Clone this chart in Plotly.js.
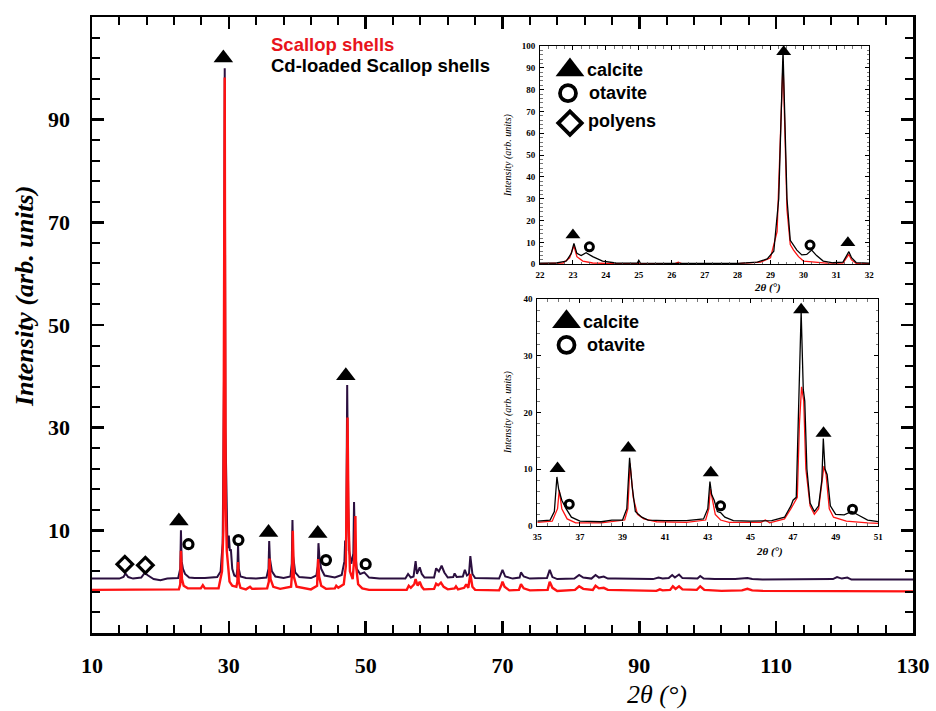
<!DOCTYPE html>
<html>
<head>
<meta charset="utf-8">
<script src="https://cdn.plot.ly/plotly-3.0.1.min.js"></script>
<style>html,body{margin:0;padding:0;background:#fff;}#chart{width:936px;height:711px;}</style>
</head>
<body>
<div id="chart"></div>
<script>
// ---------- Main pattern: Cd-loaded Scallop shells (dark purple) ----------
const cdX = [10,14.0,14.6,14.9,15.3,16.0,17.2,17.7,18.2,19.0,20.0,21.0,22.6,22.9,23.0,23.1,23.3,23.6,24.2,25.0,26.5,28.3,28.8,29.1,29.3,29.4,29.5,29.7,29.8,30.0,30.15,30.3,30.5,30.8,31.1,31.25,31.35,31.45,31.7,32.5,34.0,35.5,35.8,35.9,36.0,36.3,36.8,38.0,39.0,39.2,39.3,39.4,39.7,40.3,42.0,42.8,43.0,43.1,43.25,43.5,44.0,45.5,46.5,46.9,47.0,47.15,47.3,47.45,47.6,47.9,48.2,48.3,48.45,48.7,49.2,49.8,50.5,52,55.8,56.2,56.6,57.0,57.3,57.5,57.9,58.2,58.6,60.0,60.3,60.7,61.1,61.5,62.0,62.8,63.0,63.3,64.2,64.5,64.8,65.1,65.3,65.6,66.0,69.5,69.8,70.0,70.4,71.5,72.5,72.7,73.1,74,76.5,76.9,77.3,78,80.5,81.2,81.8,83.0,83.6,84.1,84.8,85.4,86.5,92.0,92.8,93.4,94.3,94.8,95.2,95.8,96.3,98.5,98.9,99.4,101,104,105.8,106.5,108,118.3,118.9,119.6,120.4,121,130];
const cdY = [0.6,0.6,0.9,1.6,0.9,0.6,0.8,1.7,1.2,0.5,0.3,0.6,0.7,2.5,10.0,4.0,2.5,1.5,0.8,0.7,0.7,0.9,2.0,7.5,40,100,30,9,6.5,9.0,6.0,6.3,2.5,1.2,1.0,2.5,7.3,2.5,1.0,0.7,0.6,0.8,2.5,7.9,4.5,2.0,1.0,0.7,1.0,3.5,12.0,5.0,1.8,0.9,0.7,1.2,3.0,7.5,4.5,2.5,1.2,0.8,1.3,4.0,8.0,6.0,38.3,15,6,3.5,5.5,15.5,6.0,2.5,1.5,1.8,0.8,0.6,0.6,1.5,0.8,1.0,4.0,1.5,2.8,1.5,0.8,0.8,2.6,2.0,3.1,1.8,0.8,0.9,1.6,0.9,1.0,2.3,1.2,1.5,5.0,1.5,0.7,0.6,1.5,2.3,1.0,0.6,0.8,1.8,1.0,0.6,0.7,2.3,0.9,0.5,0.6,1.3,0.8,0.6,1.3,0.8,1.0,0.6,0.6,0.5,0.8,0.6,0.7,1.3,0.8,1.4,0.7,0.6,1.1,0.6,0.5,0.5,0.7,0.5,0.4,0.5,0.9,0.6,0.8,0.4,0.4];

// ---------- Main pattern: Scallop shells (red) ----------
const scX = [10,22.7,22.9,23.0,23.15,23.4,24.0,25.9,26.2,26.5,28.5,29.0,29.2,29.3,29.4,29.45,29.55,29.7,29.9,30.1,30.5,31.1,31.25,31.35,31.45,31.7,32.5,33.1,33.4,35.6,35.85,35.95,36.1,36.5,37.5,39.1,39.25,39.35,39.5,39.9,42.0,42.9,43.05,43.2,43.5,44.2,45.5,45.7,46.0,46.8,47.1,47.35,47.5,47.7,48.1,48.35,48.5,48.6,48.9,49.5,50.5,56.0,56.3,56.6,57.1,57.3,57.6,57.9,58.2,58.5,60.0,60.3,60.6,61.0,61.4,62,63.0,63.2,63.5,64.4,64.7,65.0,65.3,65.6,66,69.5,69.8,70.0,70.3,71,72.4,72.7,73.1,74,76.6,76.9,77.3,78,80.6,81.2,81.8,83.2,83.6,84.1,84.8,85.4,92.5,93,93.4,94.5,94.9,95.3,95.8,96.3,98.4,98.9,99.5,102,105,105.8,106.5,108,130];
const scY = [-1.6,-1.5,-0.5,6.0,0.5,-0.8,-1.3,-1.3,-0.7,-1.3,-1.3,2.0,10,60,98.2,60,15,6,2.5,0,-0.8,-1.0,0,3.8,0,-1.2,-1.5,-1.0,-1.4,-1.3,0,4.5,0.5,-1.0,-1.4,-1.0,2,9.9,1,-1.0,-1.5,-0.8,4.4,1,-0.8,-1.4,-1.3,-0.8,-1.2,-0.5,3,32,12,2,0.5,5,12.8,3,-0.5,-1.3,-1.6,-1.6,-0.8,-1.2,-0.5,0.5,-0.8,0.0,-1.0,-1.5,-1.4,-0.4,-0.7,-0.2,-1.0,-1.5,-1.3,-0.9,-1.5,-1.2,-0.5,-1.2,1.5,-1.0,-1.6,-1.7,-0.8,0.0,-1.0,-1.7,-1.6,-0.5,-1.3,-1.7,-1.6,0.0,-1.2,-1.8,-1.6,-0.9,-1.4,-1.6,-0.8,-1.3,-1.2,-1.6,-1.8,-1.5,-1.7,-1.6,-0.9,-1.4,-0.9,-1.5,-1.6,-0.9,-1.6,-1.8,-1.7,-1.4,-1.7,-1.8,-1.9];

// ---------- Main phase markers ----------
const calciteX = [22.7,29.2,35.8,43.0,47.1];
const calciteY = [11.8,102,9.6,9.4,40.1];
const otaviteX = [24.1,31.4,44.2,50.0];
const otaviteY = [7.3,8.1,4.2,3.4];
const polyensX = [14.8,17.8];
const polyensY = [3.4,3.2];

// ---------- Inset 1 (22–32°) ----------
const in1BlackX = [22,22.5,22.8,22.95,23.03,23.12,23.25,23.4,23.6,23.9,24.3,24.95,25.0,25.05,26.0,27.0,28.0,28.6,28.9,29.1,29.25,29.38,29.5,29.6,29.7,29.8,29.95,30.1,30.25,30.4,30.6,30.9,31.2,31.3,31.38,31.46,31.6,32];
const in1BlackY = [0.5,0.6,1.5,5,9.6,5,4.0,5.3,3.5,1.5,0.6,0.5,1.8,0.5,0.4,0.3,0.4,1.0,2.5,6,30,98,30,11,8.5,6.5,4.3,4.5,6.5,4.0,1.5,0.7,1.0,3.5,5.8,3.0,0.8,0.5];
const in1RedX = [22,22.7,22.9,23.03,23.12,23.3,23.6,24.2,26.1,26.2,26.3,28,28.7,29.0,29.2,29.38,29.5,29.6,29.7,29.85,30.0,30.3,30.7,31.2,31.3,31.38,31.46,31.6,32];
const in1RedY = [0.3,0.6,3,8.5,3.5,1.5,0.6,0.3,0.3,1.0,0.3,0.3,1.0,3.0,15,93,25,9,6.5,3.5,1.5,1.0,0.5,0.5,2.5,4.5,2.0,0.4,0.3];
const in1CalciteX = [23.0,29.4,31.35];
const in1CalciteY = [13.4,97.4,9.9];
const in1OtaviteX = [23.5,30.2];
const in1OtaviteY = [8.0,8.8];
const in1Legend = ["calcite","otavite","polyens"];

// ---------- Inset 2 (35–51°) ----------
const in2BlackX = [35,35.6,35.8,35.92,36.0,36.15,36.35,36.6,37.0,38.0,38.5,39.0,39.2,39.33,39.45,39.6,39.9,40.2,41.0,42.0,42.8,43.0,43.1,43.18,43.3,43.45,43.6,43.8,44.2,45.0,46.0,46.6,46.9,47.0,47.15,47.3,47.38,47.48,47.55,47.65,47.8,48.0,48.2,48.35,48.42,48.5,48.6,48.75,49.0,49.4,49.75,50.1,50.5,51];
const in2BlackY = [0.8,1.0,2.5,8.6,6.5,4.5,3.0,1.5,0.8,0.7,1.0,1.0,3.0,12.0,7.0,2.5,1.5,1.0,0.9,0.9,1.2,3.0,7.8,5.5,4.5,2.5,2.3,1.5,0.9,0.8,0.9,1.5,3.5,4.5,5,25,37.8,24,22,10,4,2.5,3.5,8,15.4,10,9,3.5,2.0,1.9,2.5,1.8,1.0,0.7];
const in2RedX = [35,35.7,35.95,36.03,36.15,36.4,36.8,38.0,39.1,39.25,39.35,39.5,39.7,40.0,40.6,42.0,42.9,43.05,43.12,43.22,43.35,43.6,44.0,45.5,45.7,45.9,46.6,46.9,47.05,47.2,47.3,47.4,47.5,47.6,47.8,48.0,48.2,48.35,48.45,48.55,48.7,48.9,49.5,50.5,51];
const in2RedY = [0.6,0.8,3,6.3,3.0,1.2,0.5,0.5,1.0,3,11.0,5,2,1.2,0.7,0.6,1.0,3,6.5,4.5,2,1.0,0.6,0.6,1.0,0.5,1.2,3.0,4.0,5,18,24.5,22,10,3.5,2.0,3,7,10.5,9,3,1.5,0.8,0.5,0.4];
const in2CalciteX = [35.95,39.27,43.14,47.38,48.43];
const in2CalciteY = [10.1,13.7,9.35,38.1,16.3];
const in2OtaviteX = [36.5,43.6,49.79];
const in2OtaviteY = [3.8,3.5,2.9];
const in2Legend = ["calcite","otavite"];

// ---------- Layout helpers (pixel -> paper) ----------
const W = 936, H = 711;
const px = v => v / W;
const py = v => 1 - v / H;

const PURPLE = '#2b0f3f';
const RED = '#ff1212';
const serif = 'Liberation Serif, Times New Roman, serif';
const sans = 'Liberation Sans, Arial, sans-serif';

function mk(xs, ys, sym, size, ax, ay, lw) {
  return {x: xs, y: ys, type: 'scatter', mode: 'markers', opacity: 1,
    marker: {symbol: sym, size: size, color: '#000', opacity: 1, line: {width: lw || 0, color: '#000'}},
    xaxis: ax, yaxis: ay};
}

const traces = [
  {x: cdX, y: cdY, type: 'scatter', mode: 'lines', line: {color: PURPLE, width: 2}, xaxis: 'x', yaxis: 'y'},
  {x: scX, y: scY, type: 'scatter', mode: 'lines', line: {color: RED, width: 2.4}, xaxis: 'x', yaxis: 'y'},
  mk(calciteX, calciteY, 'triangle-up', 17, 'x', 'y'),
  mk(otaviteX, otaviteY, 'circle-open', 9, 'x', 'y', 3.2),
  mk(polyensX, polyensY, 'diamond-open', 12, 'x', 'y', 3.2),
  // inset 1
  {x: in1RedX, y: in1RedY, type: 'scatter', mode: 'lines', line: {color: RED, width: 1.3}, xaxis: 'x2', yaxis: 'y2'},
  {x: in1BlackX, y: in1BlackY, type: 'scatter', mode: 'lines', line: {color: '#000', width: 1.3}, xaxis: 'x2', yaxis: 'y2'},
  mk(in1CalciteX, in1CalciteY, 'triangle-up', 13, 'x2', 'y2'),
  mk(in1OtaviteX, in1OtaviteY, 'circle-open', 8, 'x2', 'y2', 3),
  mk([22.91], [89.0], 'triangle-up', 25, 'x2', 'y2'),
  mk([22.85], [78.4], 'circle-open', 16, 'x2', 'y2', 3.8),
  mk([22.91], [64.7], 'diamond-open', 18, 'x2', 'y2', 3.8),
  // inset 2
  {x: in2RedX, y: in2RedY, type: 'scatter', mode: 'lines', line: {color: RED, width: 1.3}, xaxis: 'x3', yaxis: 'y3'},
  {x: in2BlackX, y: in2BlackY, type: 'scatter', mode: 'lines', line: {color: '#000', width: 1.3}, xaxis: 'x3', yaxis: 'y3'},
  mk(in2CalciteX, in2CalciteY, 'triangle-up', 14, 'x3', 'y3'),
  mk(in2OtaviteX, in2OtaviteY, 'circle-open', 8, 'x3', 'y3', 3),
  mk([36.37], [36.0], 'triangle-up', 25, 'x3', 'y3'),
  mk([36.37], [31.9], 'circle-open', 16, 'x3', 'y3', 3.8)
];

const mainTickFont = {family: serif, size: 22, color: '#000', weight: 'bold'};
const insetTickFont = {family: serif, size: 9, color: '#000', weight: 'bold'};

function insetAxis(domain, range, dtick, tick0, minorDtick, anchor) {
  return {
    domain: domain, range: range, anchor: anchor, dtick: dtick, tick0: tick0,
    showline: true, linecolor: '#000', linewidth: 1, mirror: 'allticks',
    ticks: 'inside', ticklen: 4, tickwidth: 1, tickcolor: '#000',
    minor: {dtick: minorDtick, ticks: 'inside', ticklen: 2.5, tickwidth: 0.8, tickcolor: '#555'},
    showgrid: false, zeroline: false, tickfont: insetTickFont, ticklabelstandoff: 2
  };
}

const layout = {
  width: W, height: H,
  margin: {l: 0, r: 0, t: 0, b: 0},
  paper_bgcolor: '#fff', plot_bgcolor: '#fff',
  showlegend: false,
  xaxis: {
    domain: [px(92), px(913)], range: [10, 130], anchor: 'y',
    tick0: 10, dtick: 20,
    showline: true, linecolor: '#000', linewidth: 2.5, mirror: 'allticks',
    ticks: 'inside', ticklen: 12, tickwidth: 2.5, tickcolor: '#000',
    minor: {tick0: 10, dtick: 4, ticks: 'inside', ticklen: 8, tickwidth: 2, tickcolor: '#000'},
    showgrid: false, zeroline: false, tickfont: mainTickFont, ticklabelstandoff: 11
  },
  yaxis: {
    domain: [py(633), py(17)], range: [-10, 110], anchor: 'x',
    tickmode: 'array', tickvals: [10, 30, 50, 70, 90],
    showline: true, linecolor: '#000', linewidth: 2.5, mirror: 'allticks',
    ticks: 'inside', ticklen: 12, tickwidth: 2.5, tickcolor: '#000',
    minor: {tick0: 10, dtick: 4, ticks: 'inside', ticklen: 8, tickwidth: 2, tickcolor: '#000'},
    showgrid: false, zeroline: false, tickfont: mainTickFont, ticklabelstandoff: 15
  },
  xaxis2: insetAxis([px(540), px(869.3)], [22, 32], 1, 22, 0.25, 'y2'),
  yaxis2: insetAxis([py(264.3), py(46)], [0, 100], 10, 0, 2, 'x2'),
  xaxis3: insetAxis([px(537.3), px(878.3)], [35, 51], 2, 35, 0.5, 'y3'),
  yaxis3: insetAxis([py(525.7), py(299)], [0, 40], 10, 0, 2, 'x3'),
  annotations: [
    {xref: 'paper', yref: 'paper', x: px(269), y: py(44), xanchor: 'left', yanchor: 'middle', showarrow: false,
     text: 'Scallop shells', font: {family: sans, size: 18.5, color: '#e8141c', weight: 'bold'}},
    {xref: 'paper', yref: 'paper', x: px(269), y: py(65), xanchor: 'left', yanchor: 'middle', showarrow: false,
     text: 'Cd-loaded Scallop shells', font: {family: sans, size: 18.5, color: '#000', weight: 'bold'}},
    {xref: 'paper', yref: 'paper', x: px(24), y: py(297), xanchor: 'center', yanchor: 'middle', showarrow: false, textangle: -90,
     text: 'Intensity (arb. units)', font: {family: serif, size: 26, color: '#000', weight: 'bold', style: 'italic'}},
    {xref: 'paper', yref: 'paper', x: px(657), y: py(694), xanchor: 'center', yanchor: 'middle', showarrow: false,
     text: '2θ (°)', font: {family: serif, size: 26, color: '#000', style: 'italic'}},
    // inset 1 titles / legend
    {xref: 'paper', yref: 'paper', x: px(508), y: py(155), xanchor: 'center', yanchor: 'middle', showarrow: false, textangle: -90,
     text: 'Intensity (arb. units)', font: {family: serif, size: 10, color: '#000', style: 'italic'}},
    {xref: 'paper', yref: 'paper', x: px(767), y: py(288), xanchor: 'center', yanchor: 'middle', showarrow: false,
     text: '2θ (°)', font: {family: serif, size: 11, color: '#000', weight: 'bold', style: 'italic'}},
    {xref: 'x2', yref: 'y2', x: 23.38, y: 89.0, xanchor: 'left', yanchor: 'middle', showarrow: false,
     text: in1Legend[0], font: {family: sans, size: 18, color: '#000', weight: 'bold'}},
    {xref: 'x2', yref: 'y2', x: 23.44, y: 78.4, xanchor: 'left', yanchor: 'middle', showarrow: false,
     text: in1Legend[1], font: {family: sans, size: 18, color: '#000', weight: 'bold'}},
    {xref: 'x2', yref: 'y2', x: 23.41, y: 65.6, xanchor: 'left', yanchor: 'middle', showarrow: false,
     text: in1Legend[2], font: {family: sans, size: 18, color: '#000', weight: 'bold'}},
    // inset 2 titles / legend
    {xref: 'paper', yref: 'paper', x: px(508), y: py(412), xanchor: 'center', yanchor: 'middle', showarrow: false, textangle: -90,
     text: 'Intensity (arb. units)', font: {family: serif, size: 10, color: '#000', style: 'italic'}},
    {xref: 'paper', yref: 'paper', x: px(769), y: py(551), xanchor: 'center', yanchor: 'middle', showarrow: false,
     text: '2θ (°)', font: {family: serif, size: 11, color: '#000', weight: 'bold', style: 'italic'}},
    {xref: 'x3', yref: 'y3', x: 37.05, y: 36.0, xanchor: 'left', yanchor: 'middle', showarrow: false,
     text: in2Legend[0], font: {family: sans, size: 18, color: '#000', weight: 'bold'}},
    {xref: 'x3', yref: 'y3', x: 37.22, y: 31.9, xanchor: 'left', yanchor: 'middle', showarrow: false,
     text: in2Legend[1], font: {family: sans, size: 18, color: '#000', weight: 'bold'}}
  ]
};

Plotly.newPlot('chart', traces, layout, {staticPlot: true, displayModeBar: false});
</script>
</body>
</html>
